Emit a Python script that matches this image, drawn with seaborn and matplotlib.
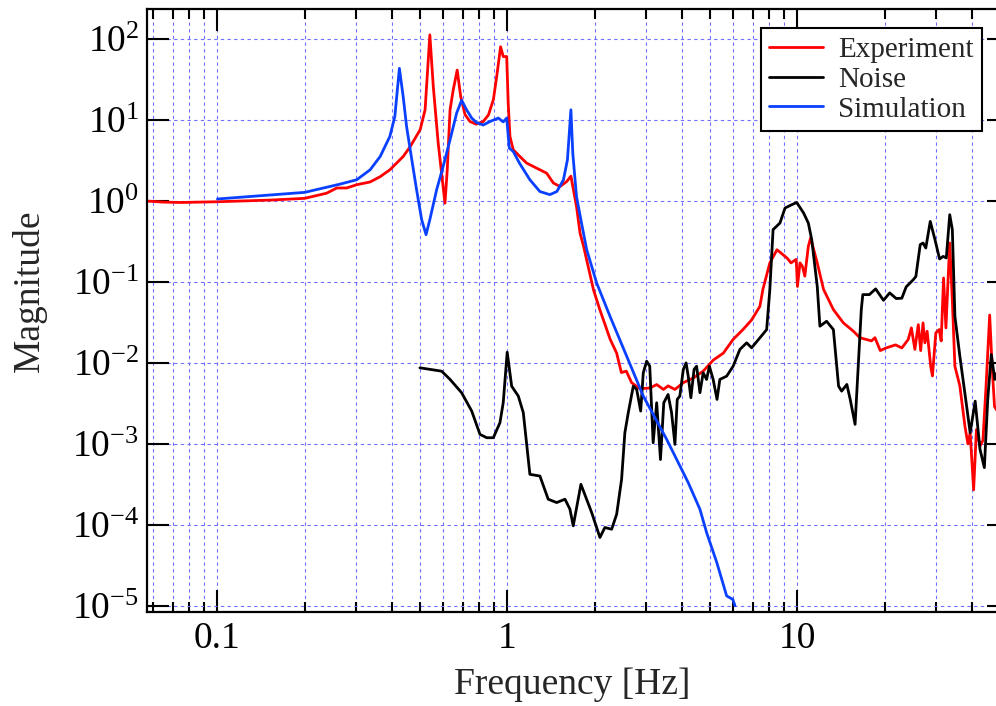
import math
import matplotlib
matplotlib.use("Agg")
import matplotlib.pyplot as plt
import pandas as pd
import seaborn as sns
from matplotlib.ticker import LogLocator, NullLocator, FuncFormatter, NullFormatter, FixedLocator

sns.set_style("ticks")
plt.rcParams["font.family"] = ["Liberation Serif", "DejaVu Serif"]
plt.rcParams["mathtext.fontset"] = "custom"
plt.rcParams["mathtext.rm"] = "Liberation Serif"
plt.rcParams["mathtext.it"] = "Liberation Serif:italic"
plt.rcParams["mathtext.bf"] = "Liberation Serif:bold"

# ---------------- data ----------------
series_names = ["Experiment", "Noise", "Simulation"]
series_colors = ["#ff0000", "#000000", "#0a40ff"]

exp_freq = [0.057, 0.065, 0.075, 0.1, 0.155, 0.2, 0.238, 0.258, 0.279, 0.302, 0.336,
            0.364, 0.393, 0.437, 0.462, 0.5, 0.52, 0.54, 0.555, 0.577, 0.593, 0.609,
            0.62, 0.634, 0.65, 0.671, 0.69, 0.714, 0.743, 0.78, 0.825, 0.86, 0.894,
            0.918, 0.947, 0.967, 0.994, 1.006, 1.02, 1.047, 1.104, 1.165, 1.26, 1.365,
            1.44, 1.517, 1.6, 1.655, 1.73, 1.78, 1.83, 1.875, 1.98, 2.08, 2.26, 2.38,
            2.47, 2.57, 2.68, 2.86, 3.1, 3.27, 3.45, 3.58, 3.78, 4.04, 4.37, 4.73, 5.12,
            5.55, 6.0, 6.5, 6.95, 7.42, 7.6, 8.03, 8.5, 9.2, 9.5, 9.9, 10.0, 10.2, 10.4,
            10.6, 10.9, 11.1, 11.7, 12.3, 13.3, 14.4, 15.6, 16.4, 18.0, 18.5, 19.3,
            20.2, 21.8, 22.9, 24.1, 24.7, 25.4, 26.1, 26.6, 27.1, 27.5, 28.0, 28.8,
            29.2, 30.0, 30.8, 31.3, 31.9, 32.5, 33.1, 33.5, 34.2, 34.9, 36.3, 37.8,
            38.7, 39.4, 40.5, 41.4, 42.6, 43.6, 44.7, 46.0, 46.9, 47.8, 49.0]
exp_mag = [1.0, 0.97, 0.96, 0.98, 1.03, 1.08, 1.25, 1.45, 1.45, 1.59, 1.72,
           2.0, 2.43, 3.55, 4.7, 7.6, 13.4, 113, 26.0, 5.2, 2.2, 0.94,
           2.43, 13.4, 23.5, 41.5, 19.5, 11.7, 9.6, 8.9, 9.6, 11.6, 17.8,
           34.4, 80.6, 61, 61, 16.2, 6.3, 4.3, 3.55, 2.94, 2.55, 2.21,
           1.67, 1.51, 1.74, 2.03, 0.86, 0.40, 0.276, 0.189, 0.08, 0.046, 0.0196, 0.0132,
           0.0076, 0.0079, 0.0057, 0.0048, 0.0049, 0.0054, 0.0047, 0.0052, 0.0047, 0.0057, 0.0065, 0.0079, 0.0108,
           0.0132, 0.0195, 0.026, 0.034, 0.05, 0.081, 0.172, 0.25, 0.198, 0.172, 0.19, 0.088, 0.172, 0.156,
           0.118, 0.275, 0.35, 0.172, 0.081, 0.0456, 0.0312, 0.0246, 0.0205, 0.0187, 0.0205, 0.0142,
           0.0153, 0.0167, 0.0153, 0.0195, 0.0271, 0.0147, 0.0297, 0.0142, 0.0312, 0.0177, 0.0246, 0.0091,
           0.0069, 0.0235, 0.0258, 0.0187, 0.112, 0.0271, 0.117, 0.303, 0.059, 0.0091, 0.0052, 0.00165,
           0.001, 0.00137, 0.00027, 0.0015, 0.00094, 0.0011, 0.0052, 0.039, 0.0091, 0.0029, 0.0025]

noise_freq = [0.499, 0.593, 0.634, 0.695, 0.753, 0.804, 0.848, 0.894, 0.942, 0.967, 0.998,
              1.034, 1.09, 1.134, 1.195, 1.294, 1.382, 1.478, 1.579, 1.642, 1.686, 1.792,
              1.951, 2.084, 2.167, 2.287, 2.38, 2.475, 2.54, 2.61, 2.716, 2.79, 2.88, 2.94,
              3.02, 3.095, 3.18, 3.27, 3.37, 3.46, 3.58, 3.68, 3.78, 3.85, 3.93, 4.04, 4.13,
              4.2, 4.29, 4.4, 4.49, 4.61, 4.73, 4.86, 4.97, 5.12, 5.28, 5.4, 5.7, 6.0, 6.33,
              6.68, 6.95, 7.42, 7.83, 8.03, 8.24, 8.7, 9.06, 9.55, 9.94, 10.5, 10.9, 11.2,
              11.7, 11.95, 12.6, 13.3, 13.86, 14.2, 14.8, 15.2, 15.8, 16.2, 16.6, 16.8, 17.7,
              18.6, 19.8, 20.8, 21.9, 22.9, 23.7, 25.1, 25.6, 26.5, 27.1, 27.7, 28.7, 29.8,
              30.9, 31.8, 32.6, 33.5, 34.2, 34.9, 36.3, 37.9, 39.4, 41.0, 42.6, 44.1, 45.3,
              46.6, 47.9, 49.5]
noise_mag = [0.0087, 0.0079, 0.00625, 0.00428, 0.00254, 0.00131, 0.00119, 0.00119, 0.00182, 0.00322, 0.01355,
             0.00516, 0.00389, 0.00243, 4.2e-4, 4.0e-4, 2.07e-4, 1.88e-4, 2.07e-4, 1.56e-4, 9.7e-5, 3.16e-4,
             1.42e-4, 6.96e-5, 9.25e-5, 8.8e-5, 1.35e-4, 3.65e-4, 1.37e-3, 2.43e-3, 5.16e-3, 4.7e-3, 2.54e-3, 7.55e-3,
             0.0105, 0.0091, 1.03e-3, 3.22e-3, 6.4e-4, 3.22e-3, 4.07e-3, 2.43e-3, 9.85e-4, 3.54e-3, 3.89e-3, 8.3e-3, 0.01,
             6.86e-3, 3.71e-3, 8.3e-3, 9.1e-3, 4.28e-3, 7.55e-3, 6.25e-3, 9.1e-3, 6.25e-3, 3.54e-3, 6.25e-3, 6.86e-3, 9.1e-3, 0.01465,
             0.0177, 0.01537, 0.0204, 0.0258, 0.0805, 0.443, 0.535, 0.82, 0.9, 0.96, 0.711, 0.535, 0.333,
             0.0884, 0.0284, 0.0327, 0.0258, 5.16e-3, 4.48e-3, 5.42e-3, 3.54e-3, 1.74e-3, 9.1e-3, 0.0456, 0.0698, 0.0698,
             0.0821, 0.0594, 0.0733, 0.0624, 0.063, 0.0869, 0.107, 0.117, 0.289, 0.303, 0.263, 0.56, 0.333,
             0.1925, 0.207, 0.198, 0.678, 0.443, 0.0377, 0.0121, 3.89e-3, 1.37e-3, 3.37e-3, 8.55e-4, 5.08e-4, 3.54e-3,
             0.0127, 6.25e-3, 0.009]

sim_freq = [0.1, 0.2, 0.265, 0.302, 0.336, 0.364, 0.393, 0.409, 0.424, 0.437, 0.449,
            0.468, 0.486, 0.506, 0.524, 0.54, 0.57, 0.6, 0.634, 0.668, 0.695, 0.723,
            0.753, 0.78, 0.825, 0.87, 0.93, 0.967, 0.994, 1.015, 1.047, 1.1, 1.195,
            1.294, 1.4, 1.48, 1.56, 1.61, 1.655, 1.68, 1.73, 1.8, 1.876, 2.03, 2.257,
            2.577, 2.94, 3.54, 3.934, 4.2, 4.61, 4.86, 5.27, 5.70, 5.98, 6.09]
sim_mag = [1.06, 1.28, 1.62, 1.83, 2.43, 3.55, 6.27, 11.1, 43.6, 19.5, 8.3,
           3.23, 1.38, 0.59, 0.384, 0.59, 1.38, 2.67, 5.7, 12.2, 17.6, 13.4,
           10.6, 9.4, 8.7, 9.6, 10.6, 9.5, 10.6, 4.5, 4.1, 2.94, 1.83,
           1.31, 1.2, 1.31, 1.83, 3.23, 13.4, 3.9, 1.14, 0.535, 0.251, 0.0973, 0.0377,
           0.0121, 0.00389, 0.001135, 5.32e-4, 3.32e-4, 1.555e-4, 8.02e-5, 3.42e-5, 1.32e-5, 1.2e-5, 1.0e-5]

x_tick_values = [0.1, 1, 10]
y_tick_values = [1e-5, 1e-4, 1e-3, 1e-2, 1e-1, 1e0, 1e1, 1e2]
x_limits = (0.0573, 53.8)
y_limits = (8.43e-6, 238.0)

# ---------------- figure ----------------
df = pd.concat([
    pd.DataFrame({"Frequency": exp_freq, "Magnitude": exp_mag, "Series": "Experiment"}),
    pd.DataFrame({"Frequency": noise_freq, "Magnitude": noise_mag, "Series": "Noise"}),
    pd.DataFrame({"Frequency": sim_freq, "Magnitude": sim_mag, "Series": "Simulation"}),
], ignore_index=True)

W, H = 996, 706
fig = plt.figure(figsize=(W / 100, H / 100), dpi=100)
ax_l, ax_r, ax_t, ax_b = 147.3, 1009.4, 8.7, 611.7
ax = fig.add_axes([ax_l / W, (H - ax_b) / H, (ax_r - ax_l) / W, (ax_b - ax_t) / H])
ax.set_xscale("log")
ax.set_yscale("log")

sns.lineplot(data=df, x="Frequency", y="Magnitude", hue="Series",
             hue_order=series_names, palette=dict(zip(series_names, series_colors)),
             estimator=None, sort=False, linewidth=2.0, ax=ax)

ax.set_xlim(*x_limits)
ax.set_ylim(*y_limits)

ax.xaxis.set_major_locator(FixedLocator(x_tick_values))
ax.xaxis.set_minor_locator(LogLocator(base=10, subs=range(2, 10), numticks=40))
ax.xaxis.set_major_formatter(FuncFormatter(lambda v, p: f"{v:g}"))
ax.xaxis.set_minor_formatter(NullFormatter())
ax.yaxis.set_major_locator(FixedLocator(y_tick_values))
ax.yaxis.set_minor_locator(NullLocator())
ax.yaxis.set_major_formatter(
    FuncFormatter(lambda v, p: r"$\mathregular{10^{%d}}$" % round(math.log10(v))))

ax.tick_params(which="both", direction="in", top=True, right=True, width=1.5,
               colors="black", labelsize=27)
ax.tick_params(which="major", length=15.5, pad=7)
ax.tick_params(which="minor", length=7.2)
ax.tick_params(axis="y", pad=6)

for s in ax.spines.values():
    s.set_linewidth(1.6)
    s.set_color("black")

ax.set_axisbelow(True)
grid_kw = dict(color="#7070ff", linewidth=0.8, linestyle=(0, (3.0, 3.0)))
ax.grid(which="major", axis="both", **grid_kw)
ax.grid(which="minor", axis="x", **grid_kw)

ax.set_xlabel("Frequency [Hz]", fontsize=27)
ax.set_ylabel("Magnitude", fontsize=27)
ax.xaxis.set_label_coords(0.493, -0.092)
ax.yaxis.set_label_coords(-0.1164, 0.532)

handles, labels = ax.get_legend_handles_labels()
leg = ax.legend(handles, labels, loc="upper right", bbox_to_anchor=(0.9683, 0.9685),
                borderaxespad=0, frameon=True, fancybox=False, edgecolor="black",
                fontsize=21, handlelength=1.85, handletextpad=0.5, labelspacing=0.12,
                borderpad=0.3, framealpha=1)
leg.get_frame().set_linewidth(1.5)
for ln in leg.get_lines():
    ln.set_linewidth(2.0)

fig.savefig("out.png", dpi=100)
